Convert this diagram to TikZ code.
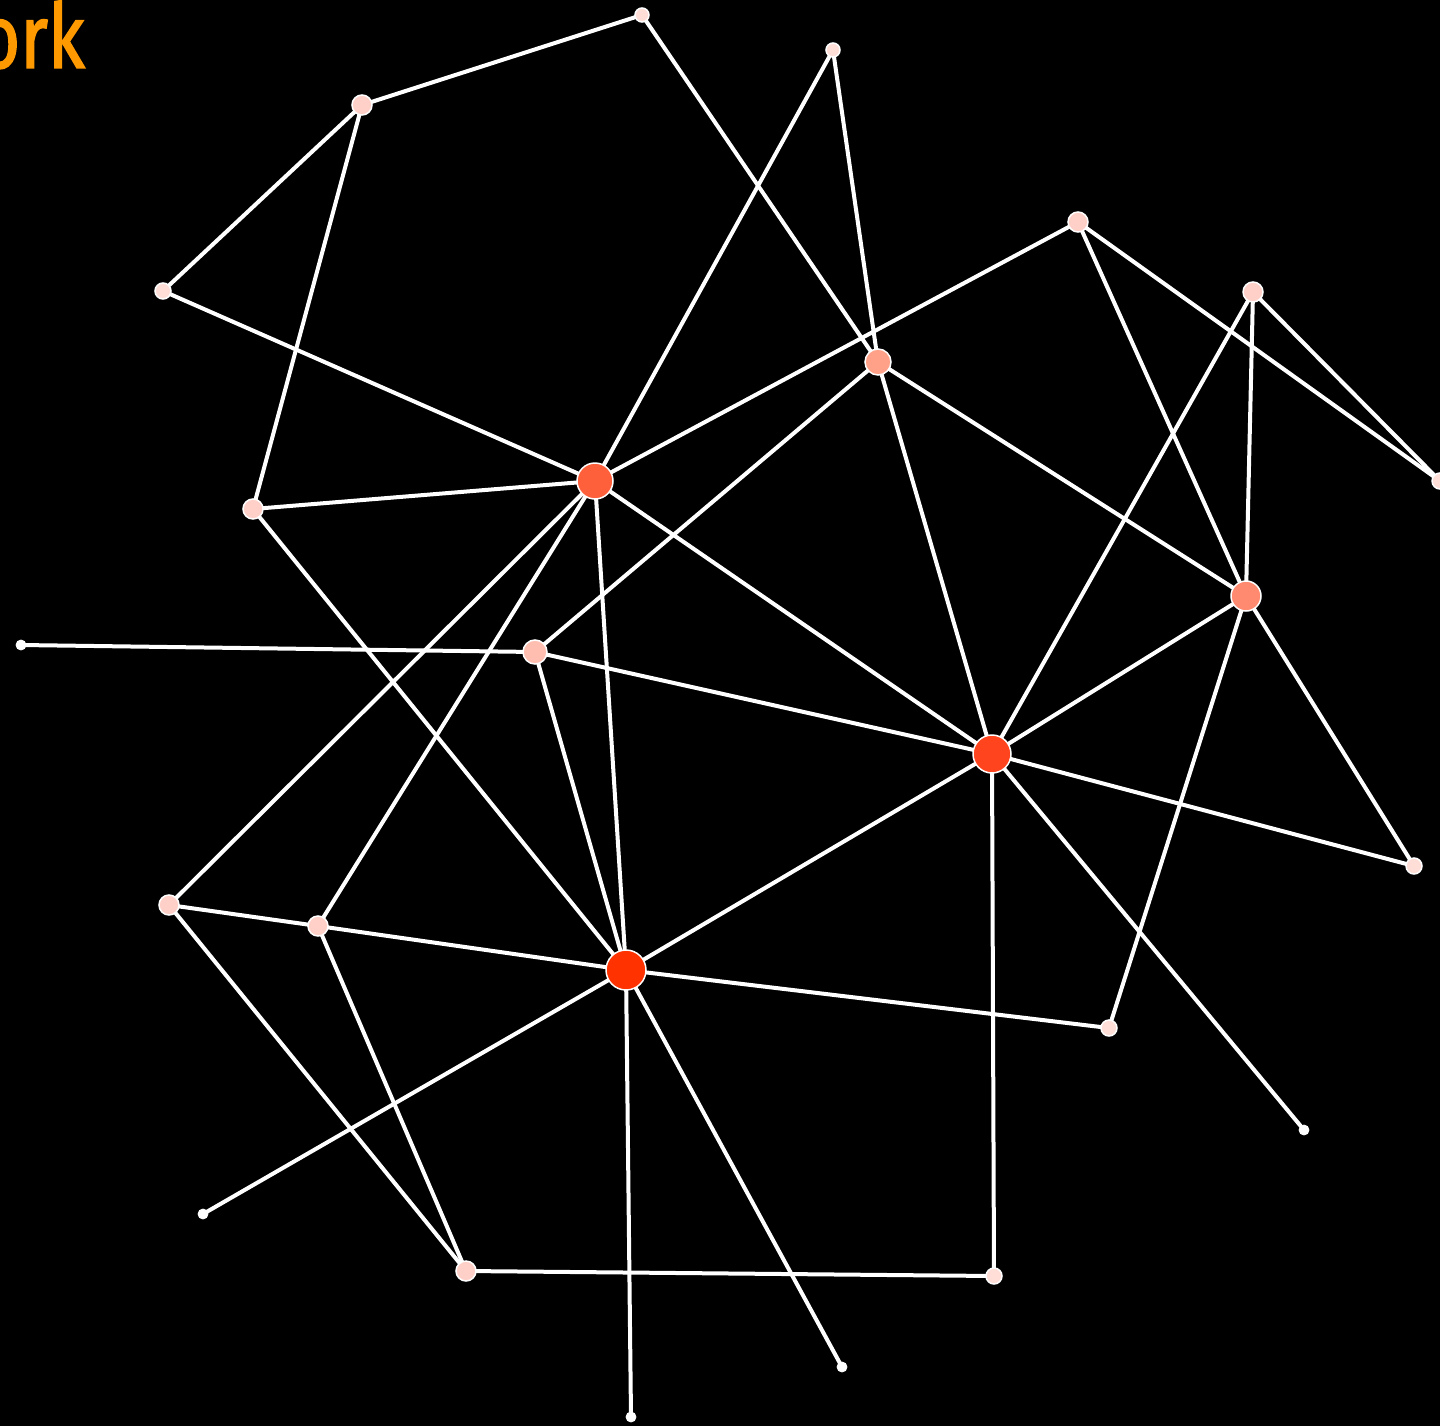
\documentclass[tikz,border=0pt]{standalone}
\usepackage{fontspec}
\usetikzlibrary{backgrounds}
\newfontfamily\titlefont[FakeStretch=0.8,FakeBold=1.6]{Fira Sans}
\definecolor{hubred}{RGB}{255,50,0}
\definecolor{hubred2}{RGB}{255,68,30}
\definecolor{hubred3}{RGB}{255,96,60}
\definecolor{salmon}{RGB}{255,138,112}
\definecolor{salmon2}{RGB}{255,160,136}
\definecolor{rosy}{RGB}{255,190,176}
\definecolor{pale}{RGB}{255,208,200}
\definecolor{paler}{RGB}{255,222,216}
\definecolor{titleorange}{RGB}{255,153,0}

\begin{document}
\begin{tikzpicture}[
    x=1pt, y=-1pt,
    vtx/.style={draw=white, circle, line width=1.5pt, inner sep=0pt},
    leaf/.style={vtx, fill=white, minimum size=10pt, line width=0.8pt},
    edge/.style={draw=white, line width=4pt}
]
\useasboundingbox (0,0) rectangle (1440,1426);

% nodes
\node[vtx, fill=paler, minimum size=14pt] (a) at (642,15) {};
\node[vtx, fill=paler, minimum size=14pt] (b) at (833,50) {};
\node[vtx, fill=pale, minimum size=20pt] (c) at (362,105) {};
\node[vtx, fill=paler, minimum size=16pt] (d) at (163,291) {};
\node[vtx, fill=pale, minimum size=20pt] (e) at (1078,222) {};
\node[vtx, fill=pale, minimum size=20pt] (f) at (1253,292) {};
\node[vtx, fill=salmon2, minimum size=26pt] (g) at (878,362) {};
\node[vtx, fill=hubred3, minimum size=36pt] (h) at (595,481) {};
\node[vtx, fill=pale, minimum size=20pt] (i) at (253,509) {};
\node[vtx, fill=paler, minimum size=16pt] (j) at (1440,481) {};
\node[vtx, fill=salmon, minimum size=30pt] (k) at (1246,596) {};
\node[leaf] (l) at (21,645) {};
\node[vtx, fill=rosy, minimum size=24pt] (m) at (535,652) {};
\node[vtx, fill=hubred2, minimum size=38pt] (n) at (992,754) {};
\node[vtx, fill=paler, minimum size=16pt] (o) at (1414,866) {};
\node[vtx, fill=pale, minimum size=20pt] (p) at (169,905) {};
\node[vtx, fill=pale, minimum size=20pt] (q) at (318,926) {};
\node[vtx, fill=hubred, minimum size=40pt] (r) at (626,970) {};
\node[vtx, fill=paler, minimum size=16pt] (s) at (1109,1028) {};
\node[leaf] (t) at (1304,1130) {};
\node[leaf] (u) at (203,1214) {};
\node[vtx, fill=pale, minimum size=20pt] (v) at (466,1271) {};
\node[vtx, fill=paler, minimum size=16pt] (w) at (994,1276) {};
\node[leaf] (x) at (842,1367) {};
\node[leaf] (y) at (631,1417) {};

\node[anchor=base west, inner sep=0pt, text=titleorange, font=\titlefont\fontsize{90}{90}\selectfont] (ttl) at (-22,68) {ork};

\begin{scope}[on background layer]
\fill[black] (0,0) rectangle (1440,1426);
\draw[edge] (c.center) -- (a.center);
\draw[edge] (a.center) -- (g.center);
\draw[edge] (b.center) -- (g.center);
\draw[edge] (b.center) -- (h.center);
\draw[edge] (c.center) -- (d.center);
\draw[edge] (c.center) -- (i.center);
\draw[edge] (d.center) -- (h.center);
\draw[edge] (e.center) -- (h.center);
\draw[edge] (e.center) -- (k.center);
\draw[edge] (e.center) -- (j.center);
\draw[edge] (f.center) -- (j.center);
\draw[edge] (f.center) -- (n.center);
\draw[edge] (f.center) -- (k.center);
\draw[edge] (g.center) -- (m.center);
\draw[edge] (g.center) -- (k.center);
\draw[edge] (g.center) -- (n.center);
\draw[edge] (i.center) -- (h.center);
\draw[edge] (h.center) -- (n.center);
\draw[edge] (h.center) -- (r.center);
\draw[edge] (h.center) -- (p.center);
\draw[edge] (h.center) -- (q.center);
\draw[edge] (i.center) -- (r.center);
\draw[edge] (l.center) -- (m.center);
\draw[edge] (m.center) -- (n.center);
\draw[edge] (m.center) -- (r.center);
\draw[edge] (k.center) -- (n.center);
\draw[edge] (k.center) -- (o.center);
\draw[edge] (k.center) -- (s.center);
\draw[edge] (n.center) -- (o.center);
\draw[edge] (n.center) -- (r.center);
\draw[edge] (n.center) -- (w.center);
\draw[edge] (n.center) -- (t.center);
\draw[edge] (p.center) -- (q.center);
\draw[edge] (p.center) -- (v.center);
\draw[edge] (q.center) -- (r.center);
\draw[edge] (q.center) -- (v.center);
\draw[edge] (r.center) -- (s.center);
\draw[edge] (r.center) -- (u.center);
\draw[edge] (r.center) -- (y.center);
\draw[edge] (r.center) -- (x.center);
\draw[edge] (v.center) -- (w.center);
\end{scope}
\end{tikzpicture}
\end{document}
